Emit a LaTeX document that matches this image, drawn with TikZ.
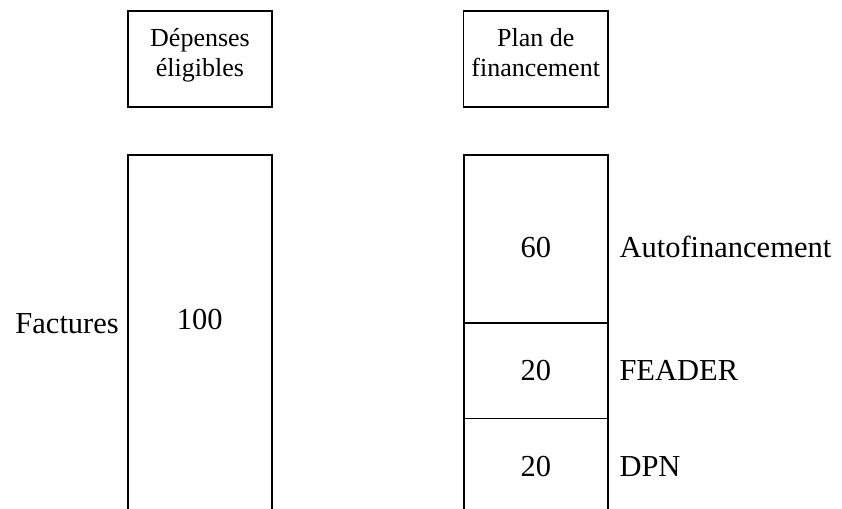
\documentclass[tikz,border=0pt]{standalone}
\usepackage{fontspec}
\setmainfont{Liberation Serif}
\begin{document}
\begin{tikzpicture}[x=1pt,y=-1pt,
  cell/.style={draw=black,line width=1.6pt,anchor=north west,inner sep=0pt,outer sep=0pt},
  headtxt/.style={font=\fontsize{26}{30}\selectfont,align=center,anchor=base,inner sep=0pt},
  bigtxt/.style={font=\fontsize{30.5}{36}\selectfont,inner sep=0pt}]
\useasboundingbox (0,0) rectangle (842,508);
\clip (0,0) rectangle (842,508);
% headers
\node[cell,minimum width=144pt,minimum height=96pt] (h1) at (127.7,11) {};
\node[cell,minimum width=144.4pt,minimum height=96pt] (h2) at (463.5,11) {};
\node[headtxt] (t1) at (200,76.7) {Dépenses\\éligibles};
\node[headtxt] (t2) at (535.7,76.7) {Plan de\\financement};
% left tall box
\node[cell,minimum width=144pt,minimum height=370pt] (fact) at (127.7,154.7) {};
\node[bigtxt,anchor=base] (v100) at (199.7,329) {100};
\node[bigtxt,anchor=base east] (lfact) at (119,333) {Factures};
% right column
\node[cell,minimum width=144.3pt,minimum height=168pt] (c1) at (463.7,154.7) {};
\node[cell,minimum width=144.3pt,minimum height=95.6pt] (c2) at (463.7,322.7) {};
\node[cell,minimum width=144.3pt,minimum height=105pt] (c3) at (463.7,418.3) {};
\node[bigtxt,anchor=base] (v60) at (535.9,257) {60};
\node[bigtxt,anchor=base] (v20a) at (535.9,380.7) {20};
\node[bigtxt,anchor=base] (v20b) at (535.9,476) {20};
\node[bigtxt,anchor=base west] (l1) at (619.3,257) {Autofinancement};
\node[bigtxt,anchor=base west] (l2) at (619.3,380.7) {FEADER};
\node[bigtxt,anchor=base west] (l3) at (619.3,476) {DPN};
\end{tikzpicture}
\end{document}
